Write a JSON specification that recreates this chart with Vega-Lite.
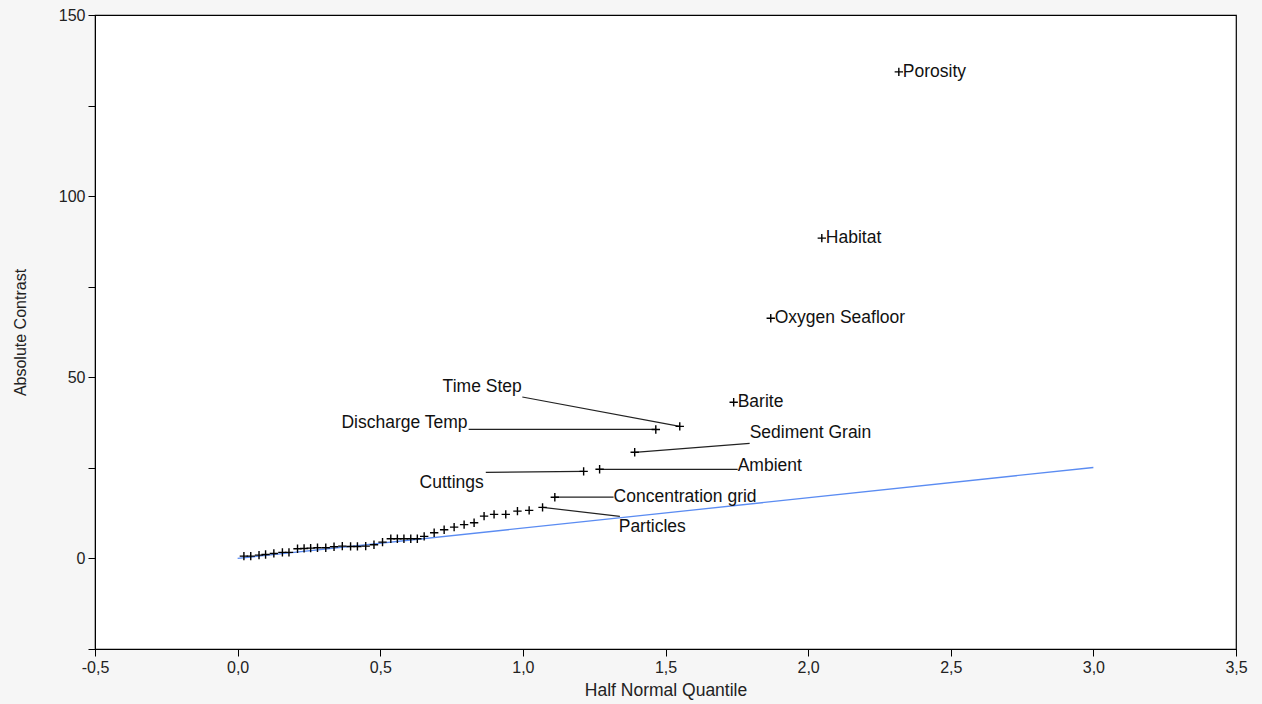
{
  "$schema": "https://vega.github.io/schema/vega-lite/v6.json",
  "width": 1141,
  "height": 634,
  "autosize": "none",
  "padding": {"left": 95, "top": 15, "right": 26, "bottom": 55},
  "background": "#f6f6f6",
  "config": {
    "font": "Liberation Sans",
    "view": {"fill": "white", "stroke": "#000000", "strokeWidth": 1.2},
    "axis": {
      "grid": false,
      "domainColor": "#000000",
      "tickColor": "#000000",
      "labelColor": "#222222",
      "titleColor": "#222222",
      "labelFont": "Liberation Sans",
      "titleFont": "Liberation Sans",
      "labelFontSize": 16,
      "titleFontWeight": "normal",
      "tickSize": 7,
      "labelPadding": 3
    }
  },
  "datasets": {
    "effects": [
      {"x": 0.022, "y": 0.64},
      {"x": 0.046, "y": 0.64},
      {"x": 0.075, "y": 0.91},
      {"x": 0.098, "y": 1.1},
      {"x": 0.127, "y": 1.38},
      {"x": 0.157, "y": 1.66},
      {"x": 0.18, "y": 1.66},
      {"x": 0.21, "y": 2.68},
      {"x": 0.233, "y": 2.76},
      {"x": 0.256, "y": 2.85},
      {"x": 0.28, "y": 2.96},
      {"x": 0.309, "y": 2.96},
      {"x": 0.338, "y": 3.23},
      {"x": 0.367, "y": 3.4},
      {"x": 0.396, "y": 3.31},
      {"x": 0.42, "y": 3.31},
      {"x": 0.449, "y": 3.4},
      {"x": 0.478, "y": 3.78},
      {"x": 0.508, "y": 4.5},
      {"x": 0.537, "y": 5.44},
      {"x": 0.56, "y": 5.44},
      {"x": 0.583, "y": 5.44},
      {"x": 0.607, "y": 5.44},
      {"x": 0.63, "y": 5.44},
      {"x": 0.654, "y": 6.08},
      {"x": 0.689, "y": 7.1},
      {"x": 0.724, "y": 7.93},
      {"x": 0.759, "y": 8.65},
      {"x": 0.794, "y": 9.32},
      {"x": 0.829, "y": 9.86},
      {"x": 0.864, "y": 11.69},
      {"x": 0.899, "y": 12.15},
      {"x": 0.94, "y": 12.15},
      {"x": 0.981, "y": 13.07},
      {"x": 1.022, "y": 13.26},
      {"x": 1.069, "y": 14.1, "name": "Particles", "lx": 1.34, "ly": 11.6, "tx": 1.336, "ty": 8.56, "side": "left"},
      {"x": 1.112, "y": 16.9, "name": "Concentration grid", "lx": 1.318, "ly": 16.9, "tx": 1.318, "ty": 16.85, "side": "left"},
      {"x": 1.213, "y": 24.03, "name": "Cuttings", "lx": 0.87, "ly": 23.76, "tx": 0.863, "ty": 20.72, "side": "right"},
      {"x": 1.269, "y": 24.6, "name": "Ambient", "lx": 1.753, "ly": 24.6, "tx": 1.753, "ty": 25.41, "side": "left"},
      {"x": 1.392, "y": 29.3, "name": "Sediment Grain", "lx": 1.795, "ly": 31.77, "tx": 1.795, "ty": 34.53, "side": "left"},
      {"x": 1.466, "y": 35.6, "name": "Discharge Temp", "lx": 0.81, "ly": 35.6, "tx": 0.806, "ty": 37.29, "side": "right"},
      {"x": 1.55, "y": 36.46, "name": "Time Step", "lx": 0.998, "ly": 44.56, "tx": 0.996, "ty": 47.24, "side": "right"},
      {"x": 1.739, "y": 43.1, "name": "Barite", "side": "direct"},
      {"x": 1.869, "y": 66.3, "name": "Oxygen Seafloor", "side": "direct"},
      {"x": 2.048, "y": 88.4, "name": "Habitat", "side": "direct"},
      {"x": 2.318, "y": 134.3, "name": "Porosity", "side": "direct"}
    ],
    "refline": [
      {"x": 0, "y": 0},
      {"x": 3.0, "y": 25.1}
    ]
  },
  "layer": [
    {
      "data": {"name": "refline"},
      "mark": {"type": "line", "color": "#5b8cf2", "strokeWidth": 1.3},
      "encoding": {
        "x": {
          "field": "x", "type": "quantitative",
          "scale": {"domain": [-0.5, 3.5], "nice": false, "zero": false},
          "axis": {
            "title": "Half Normal Quantile",
            "titleFontSize": 17.5,
            "values": [-0.5, 0, 0.5, 1, 1.5, 2, 2.5, 3, 3.5],
            "labelExpr": "(datum.value < 0 ? '-' : '') + replace(format(abs(datum.value), '.1f'), '.', ',')",
            "titlePadding": 6,
            "labelFlush": false,
            "labelOverlap": false
          }
        },
        "y": {
          "field": "y", "type": "quantitative",
          "scale": {"domain": [-25, 150], "nice": false, "zero": false},
          "axis": {
            "title": "Absolute Contrast",
            "titleFontSize": 16,
            "values": [-25, 0, 25, 50, 75, 100, 125, 150],
            "labelExpr": "(datum.value >= 0 && datum.value % 50 === 0) ? format(datum.value, 'd') : ''",
            "titlePadding": 30,
            "labelFlush": false,
            "labelOverlap": false
          }
        }
      }
    },
    {
      "data": {"name": "effects"},
      "transform": [{"filter": "datum.lx != null"}],
      "mark": {"type": "rule", "color": "#222222", "strokeWidth": 1.2},
      "encoding": {
        "x": {"field": "lx", "type": "quantitative"},
        "y": {"field": "ly", "type": "quantitative"},
        "x2": {"field": "x"},
        "y2": {"field": "y"}
      }
    },
    {
      "data": {"name": "effects"},
      "mark": {"type": "point", "shape": "M-1,0H1M0,-1V1", "size": 70, "filled": false, "color": "#000000", "strokeWidth": 1.4, "opacity": 1},
      "encoding": {
        "x": {"field": "x", "type": "quantitative"},
        "y": {"field": "y", "type": "quantitative"}
      }
    },
    {
      "data": {"name": "effects"},
      "transform": [{"filter": "datum.side === 'direct'"}],
      "mark": {"type": "text", "align": "left", "baseline": "middle", "dx": 4, "fontSize": 17.5, "color": "#111111"},
      "encoding": {
        "x": {"field": "x", "type": "quantitative"},
        "y": {"field": "y", "type": "quantitative"},
        "text": {"field": "name"}
      }
    },
    {
      "data": {"name": "effects"},
      "transform": [{"filter": "datum.side === 'left'"}],
      "mark": {"type": "text", "align": "left", "baseline": "middle", "fontSize": 17.5, "color": "#111111"},
      "encoding": {
        "x": {"field": "tx", "type": "quantitative"},
        "y": {"field": "ty", "type": "quantitative"},
        "text": {"field": "name"}
      }
    },
    {
      "data": {"name": "effects"},
      "transform": [{"filter": "datum.side === 'right'"}],
      "mark": {"type": "text", "align": "right", "baseline": "middle", "fontSize": 17.5, "color": "#111111"},
      "encoding": {
        "x": {"field": "tx", "type": "quantitative"},
        "y": {"field": "ty", "type": "quantitative"},
        "text": {"field": "name"}
      }
    }
  ]
}
